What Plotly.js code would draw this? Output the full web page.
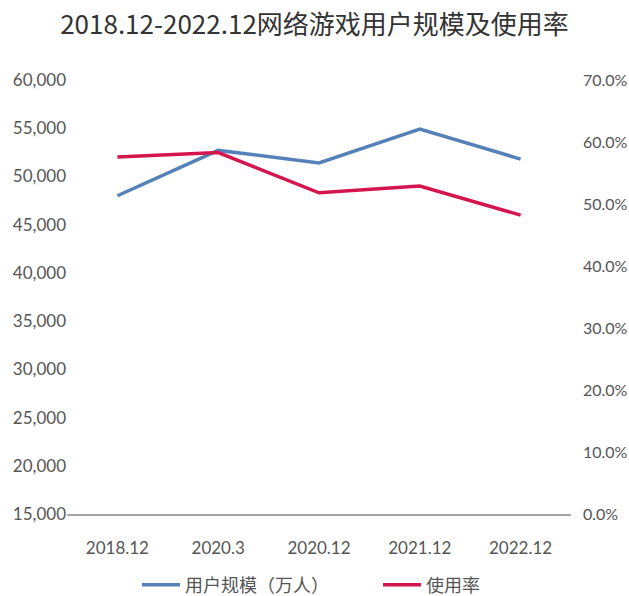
<!DOCTYPE html>
<html>
<head>
<meta charset="utf-8">
<script src="https://cdn.plot.ly/plotly-3.0.1.min.js"></script>
<style>html,body{margin:0;padding:0;background:#fff;}#chart{width:629px;height:596px;}</style>
</head>
<body>
<div id="chart"></div>
<script>
const categories = ["2018.12", "2020.3", "2020.12", "2021.12", "2022.12"];
const userScale = [48000, 52700, 51400, 54900, 51800];
const usageRate = [0.576, 0.583, 0.518, 0.529, 0.482];
const seriesNames = ["用户规模（万人）", "使用率"];
const titleText = "2018.12-2022.12网络游戏用户规模及使用率";

const fontFam = "Lato, 'Noto Sans CJK SC', sans-serif";

const traces = [
  {
    x: categories, y: userScale, name: seriesNames[0], type: "scatter", mode: "lines",
    line: {color: "#5581b8", width: 3.5}, yaxis: "y"
  },
  {
    x: categories, y: usageRate, name: seriesNames[1], type: "scatter", mode: "lines",
    line: {color: "#d5164e", width: 3.5}, yaxis: "y2"
  }
];

const layout = {
  width: 629, height: 596,
  margin: {l: 67, r: 58, t: 80, b: 82},
  paper_bgcolor: "#fff", plot_bgcolor: "#fff",
  font: {family: fontFam, color: "#555"},
  title: {
    text: titleText, x: 0.5, xanchor: "center", y: 0.958, yanchor: "middle",
    font: {family: "'Noto Sans CJK SC', Lato, sans-serif", size: 26, color: "#333"}
  },
  xaxis: {
    type: "category", range: [-0.5, 4.5], showgrid: false, zeroline: false,
    showline: true, linecolor: "#a6a6a6", linewidth: 1.5,
    ticks: "", ticklabelstandoff: 18,
    tickfont: {family: fontFam, size: 17, color: "#555"}
  },
  yaxis: {
    range: [15000, 60000], dtick: 5000, tickformat: ",", showgrid: false, zeroline: false,
    showline: false, ticks: "", ticklabelstandoff: 0,
    tickfont: {family: fontFam, size: 17, color: "#555"}
  },
  yaxis2: {
    range: [0, 0.7], dtick: 0.1, tickformat: ".1%", overlaying: "y", side: "right",
    showgrid: false, zeroline: false, showline: false, ticks: "", ticklabelstandoff: 11,
    tickfont: {family: fontFam, size: 16, color: "#555"}
  },
  showlegend: true,
  legend: {
    orientation: "h", xref: "container", yref: "container",
    x: 0.2178, xanchor: "left", y: 0.0185, yanchor: "middle",
    font: {family: "'Noto Sans CJK SC', sans-serif", size: 18, color: "#555"},
    itemwidth: 38, entrywidth: 188
  }
};

Plotly.newPlot("chart", traces, layout, {displayModeBar: false, staticPlot: true});
</script>
</body>
</html>
